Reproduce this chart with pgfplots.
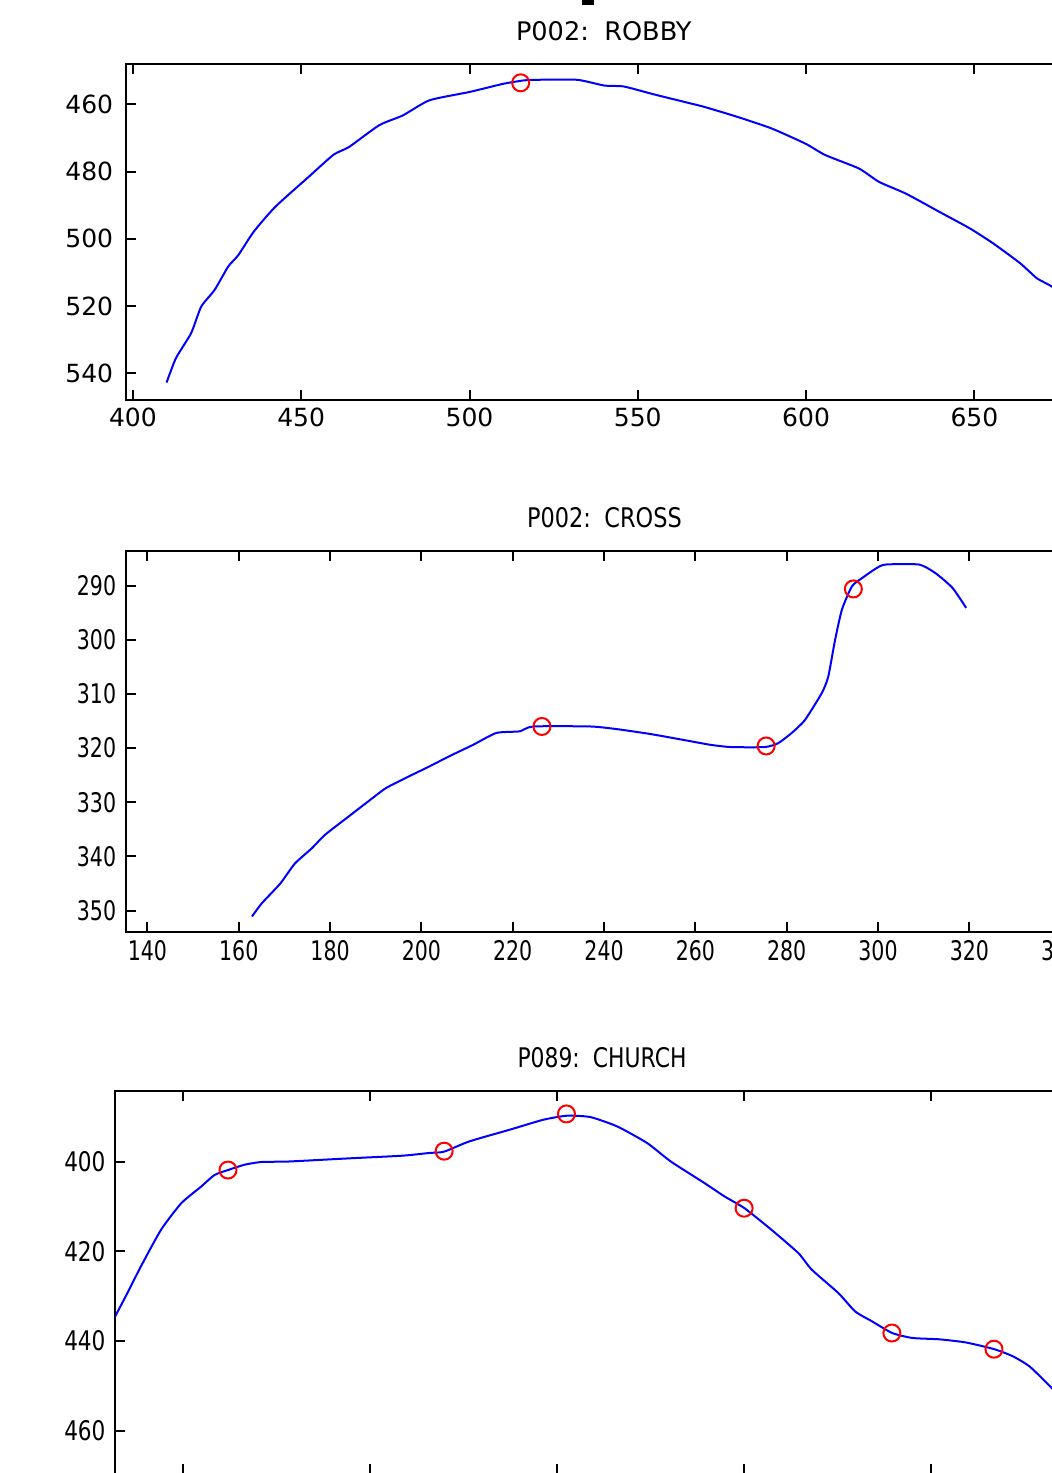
\documentclass[border=0pt]{standalone}
\usepackage{fontspec}
\setmainfont{DejaVu Sans}
\usepackage{pgfplots}
\pgfplotsset{compat=1.18}

\definecolor{mlblue}{RGB}{0,0,255}
\definecolor{mlred}{RGB}{255,0,0}

% 1 px of the reference = 0.5pt
\pgfplotsset{
  mlab/.style={
    scale only axis,
    anchor=north west,
    y dir=reverse,
    axis line style={line width=1pt},
    tick style={line width=1pt, black},
    tick align=inside,
    tick pos=both,
    major tick length=5pt,
    /pgf/number format/assume math mode=true,
    /pgf/number format/1000 sep={},
    xticklabel style={anchor=north, inner sep=0pt, yshift=-4pt},
    yticklabel style={anchor=east, inner sep=0pt, xshift=-6pt},
    title style={anchor=south, at={(0.5,1)}, inner sep=0pt, yshift=5.5pt},
  },
  curve/.style={color=mlblue, line width=1pt, no markers, smooth, tension=0.35},
  knots/.style={only marks, color=mlred, mark=o, mark size=4.25pt,
                mark options={line width=1pt}},
}

\begin{document}
\begin{tikzpicture}
\useasboundingbox (0,0) rectangle (526pt,-736.5pt);
\clip (0,0) rectangle (526pt,-736.5pt);
\fill[black] (291pt,0) rectangle (297pt,-2.5pt);

% ---- P002: ROBBY
\begin{axis}[mlab,
  at={(62.75pt,-32pt)}, width=478.3pt, height=168pt,
  xmin=397.8, xmax=682, ymin=448, ymax=548,
  xtick={400,450,...,700}, ytick={460,480,...,540},
  tick label style={font=\fontsize{12.5}{15}\selectfont},
  title style={font=\fontsize{12.8}{15}\selectfont},
  title={P002:\hspace{0.6em}ROBBY},
]
\addplot[curve] coordinates {
  (410,542.8) (412.8,535.5) (417.3,528.1) (420.3,520.2) (424.3,515.2)
  (428.3,508.3) (431.3,504.9) (435.9,497.9) (442.3,490.5) (452.2,481.6)
  (459.6,475.0) (464.2,472.7) (473.2,466.2) (480.2,463.3) (488.1,458.8)
  (500.1,456.3) (510.0,453.9) (516.0,452.9) (520.0,452.7) (532.0,452.7)
  (540.0,454.4) (545.9,454.7) (553.9,456.8) (563.9,459.3) (569.9,460.8)
  (579.8,463.8) (589.8,467.2) (599.8,471.7) (605.7,475.1) (615.7,479.1)
  (621.7,483.1) (629.7,486.6) (639.6,492.0) (648.6,496.9) (655.6,501.4)
  (663.6,507.3) (668.6,511.8) (673.1,514.3) (678,519)
};
\addplot[knots] coordinates {(515.2,453.6)};
\end{axis}

% ---- P002: CROSS
\begin{axis}[mlab,
  at={(62.75pt,-275.5pt)}, width=479pt, height=190.35pt,
  xmin=135.2, xmax=345, ymin=283.6, ymax=353.9,
  xtick={140,160,...,340}, ytick={290,300,...,350},
  tick label style={font=\fontsize{13.5}{16}\selectfont, xscale=0.76},
  title style={font=\fontsize{13.5}{16}\selectfont, xscale=0.83},
  title={P002:\hspace{0.6em}CROSS},
]
\addplot[curve] coordinates {
  (162.9,351.1) (165.0,348.7) (169.1,345.0) (172.3,341.3) (176.0,338.5)
  (178.9,336.0) (184.1,332.6) (187.8,330.2) (192.2,327.4) (197.3,325.2)
  (201.7,323.4) (206.1,321.5) (211.3,319.4) (216.4,317.2) (221.5,316.9)
  (224.5,316.0) (237.0,316.0) (242.9,316.5) (250.2,317.4) (257.5,318.5)
  (263.4,319.4) (267.8,319.8) (275.2,319.8) (278.1,319.1) (281.1,317.2)
  (284.0,314.8) (287.7,309.8) (289.1,306.8) (290.6,300.0) (292.1,294.4)
  (294.3,290.1) (296.5,288.6) (299.4,286.9) (301.6,286.1) (309.0,286.1)
  (312.6,287.7) (316.3,290.4) (319.3,294.1)
};
\addplot[knots] coordinates {(226.4,316.0) (275.5,319.6) (294.6,290.6)};
\end{axis}

% ---- P089: CHURCH (x tick labels fall below the visible area)
\begin{axis}[mlab,
  at={(57.7pt,-545.5pt)}, width=486.6pt, height=191.5pt,
  xmin=181.9, xmax=442.1, ymin=384.3, ymax=469.6,
  xtick={200,250,...,450}, xticklabels={}, ytick={400,420,...,460},
  tick label style={font=\fontsize{13.5}{16}\selectfont, xscale=0.8},
  title style={font=\fontsize{13.5}{16}\selectfont, xscale=0.81},
  title={P089:\hspace{0.6em}CHURCH},
]
\addplot[curve] coordinates {
  (180.0,437.4) (181.9,434.4) (185.1,429.3) (188.7,423.4) (194.1,415.2)
  (199.5,409.3) (204.8,405.6) (208.4,403.0) (212.0,401.9) (216.5,400.7)
  (221.0,400.1) (228.2,400.0) (244.3,399.3) (258.7,398.7) (265.8,398.1)
  (269.8,397.8) (276.6,395.5) (287.4,392.9) (296.3,390.7) (302.6,389.8)
  (308.9,390.1) (316.1,392.2) (324.1,395.9) (330.4,400.0) (339.4,404.8)
  (344.8,407.8) (350.1,410.4) (357.3,415.2) (364.5,420.4) (368.1,424.1)
  (375.2,429.3) (379.7,433.4) (384.2,435.6) (389.6,438.2) (395.0,439.3)
  (402.2,439.6) (409.3,440.3) (416.9,441.8) (421.9,443.4) (426.4,445.7)
  (432.3,450.5) (436,454)
};
\addplot[knots] coordinates {(212.0,401.9) (269.8,397.7) (302.5,389.4)
  (350.0,410.4) (389.5,438.2) (416.8,441.8)};
\end{axis}
\end{tikzpicture}
\end{document}
